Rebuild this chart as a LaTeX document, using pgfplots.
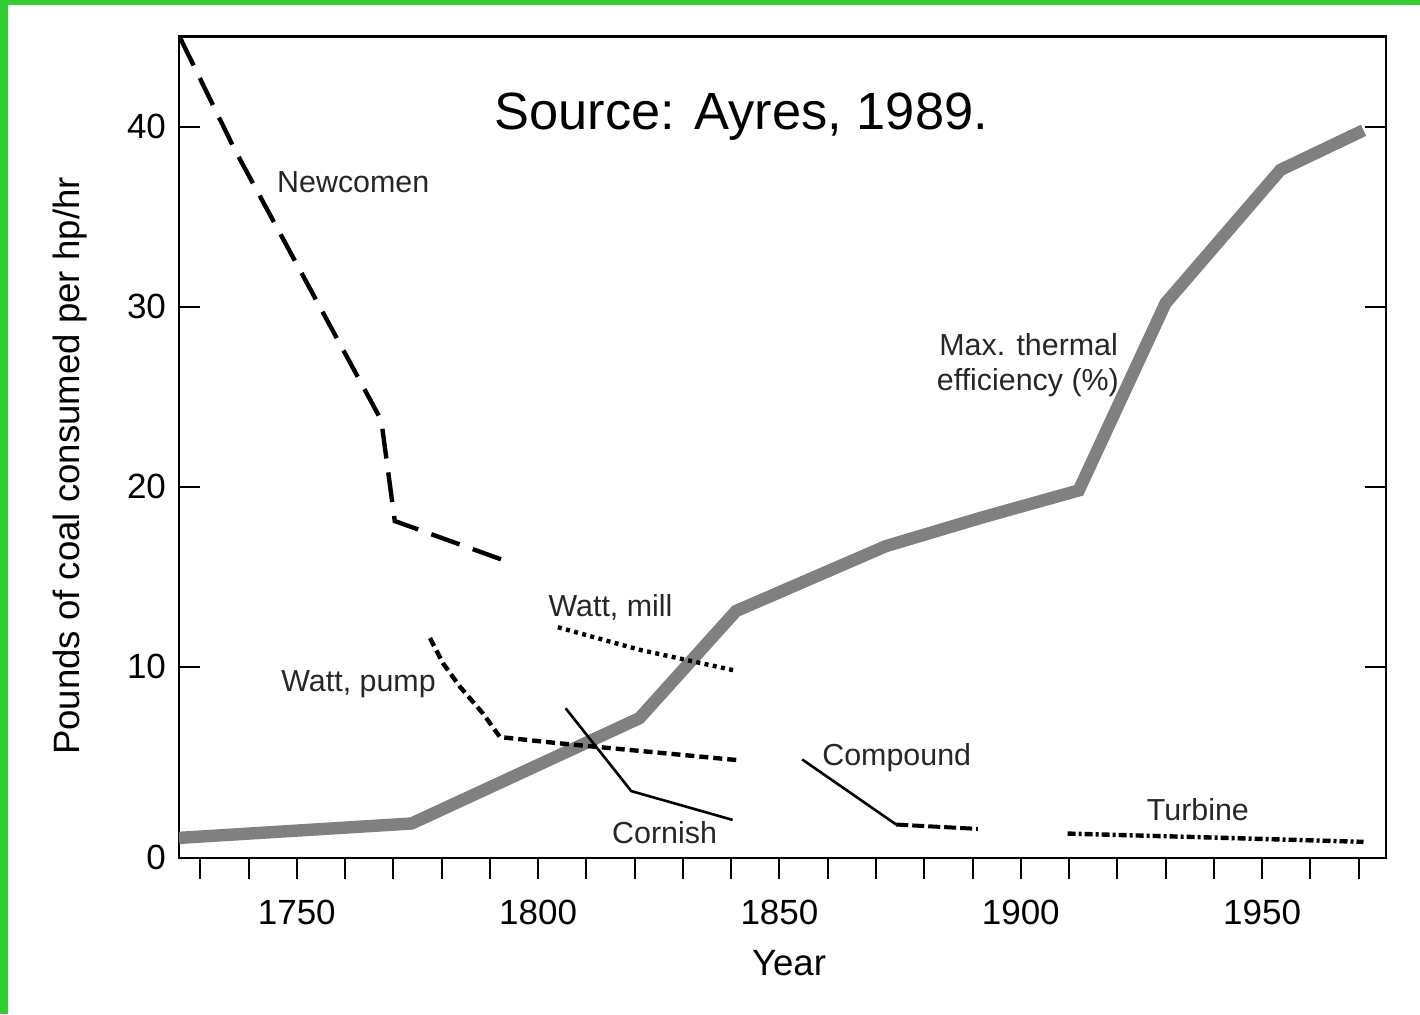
\documentclass[border=0pt]{standalone}
\usepackage{fontspec}
\setmainfont{Liberation Sans}
\usepackage{pgfplots}
\pgfplotsset{compat=1.18}
\definecolor{frame}{RGB}{50,205,50}
\definecolor{thermal}{RGB}{128,128,128}

\begin{document}
\begin{tikzpicture}
\useasboundingbox (-89.5pt,-78.15pt) rectangle (620.5pt,428.85pt);
\fill[frame] (-89.5pt,-78.15pt) rectangle (-85.5pt,428.85pt);
\fill[frame] (-89.5pt,426.35pt) rectangle (620.5pt,428.85pt);
\begin{axis}[
    at={(0pt,0pt)}, anchor=south west,
    scale only axis,
    width=603.35pt, height=410.5pt,
    xmin=1725.6, xmax=1975.6,
    ymin=-0.6, ymax=45,
    xtick={1750,1800,1850,1900,1950},
    minor xtick={1730,1740,...,1970},
    ytick={-0.6,10,20,30,40},
    yticklabels={0,10,20,30,40},
    xtick pos=bottom, ytick pos=both, yticklabel pos=left,
    xtick align=outside, ytick align=inside,
    major tick length=10.5pt, minor tick length=10.5pt,
    tick style={black, line width=1pt},
    axis line style={black, line width=1.2pt},
    /pgf/number format/1000 sep={},
    /pgf/number format/assume math mode=true,
    tick label style={font=\fontsize{17.5}{21}\selectfont},
    xticklabel style={yshift=-7pt},
    yticklabel style={xshift=-3pt},
    label style={font=\fontsize{18.3}{22}\selectfont},
    xlabel={Year},
    ylabel={Pounds of coal consumed per hp/hr},
    xlabel style={at={(axis description cs:0.5055,-0.128)}, anchor=center},
    ylabel style={at={(axis description cs:-0.0903,0.477)}, anchor=center},
    every node/.append style={inner sep=0pt},
]
% maximum thermal efficiency (%)
\addplot[thermal, line width=6.2pt] coordinates {
    (1725.6,0.5) (1773.8,1.3) (1821,7.15) (1841,13.1) (1872,16.7)
    (1892,18.3) (1912,19.8) (1930,30.2) (1953.8,37.6) (1971,39.8)
};
% Newcomen
\addplot[black, line width=2.2pt, dash pattern=on 15pt off 7pt] coordinates {
    (1725.9,44.9) (1737.2,38.7) (1767.5,23.7) (1770.3,18.1) (1794.1,15.8)
};
% Watt, pump
\addplot[black, line width=2.2pt, dash pattern=on 4.5pt off 2.5pt] coordinates {
    (1777.6,11.6) (1780.3,10.2) (1783.8,8.9) (1788.6,7.4) (1792.1,6.1)
    (1804.5,5.75) (1841.3,4.82)
};
% Watt, mill
\addplot[black, line width=2.2pt, dash pattern=on 2pt off 2.2pt] coordinates {
    (1804.1,12.2) (1821,10.95) (1840.7,9.8)
};
% Cornish
\addplot[black, line width=1.3pt] coordinates {
    (1805.7,7.7) (1819.3,3.1) (1840.3,1.5)
};
% Compound
\addplot[black, line width=1.3pt] coordinates {
    (1854.7,4.86) (1874.2,1.24)
};
\addplot[black, line width=2pt, dash pattern=on 6pt off 2pt] coordinates {
    (1874.2,1.24) (1891.1,1.0)
};
% Turbine
\addplot[black, line width=2.2pt, dash pattern=on 4pt off 1.5pt on 1.5pt off 1.5pt] coordinates {
    (1909.7,0.74) (1942.4,0.5) (1971,0.28)
};

\node[font=\fontsize{26.2}{31}\selectfont, anchor=base] at (axis cs:1842.1,39.82) {Source: Ayres, 1989.};
\begin{scope}[every node/.style={font=\fontsize{15.2}{18}\selectfont, text=black!85, inner sep=0pt}]
\node[anchor=base] at (axis cs:1761.7,36.36) {Newcomen};
\node[anchor=base east] at (axis cs:1920.2,27.32) {Max. thermal};
\node[anchor=base east] at (axis cs:1920.4,25.33) {efficiency (\%)};
\node[anchor=base] at (axis cs:1815.0,12.78) {Watt, mill};
\node[anchor=base] at (axis cs:1762.8,8.61) {Watt, pump};
\node[anchor=base] at (axis cs:1874.3,4.54) {Compound};
\node[anchor=base] at (axis cs:1826.2,0.19) {Cornish};
\node[anchor=base] at (axis cs:1936.7,1.48) {Turbine};
\end{scope}
\end{axis}
\end{tikzpicture}
\end{document}
